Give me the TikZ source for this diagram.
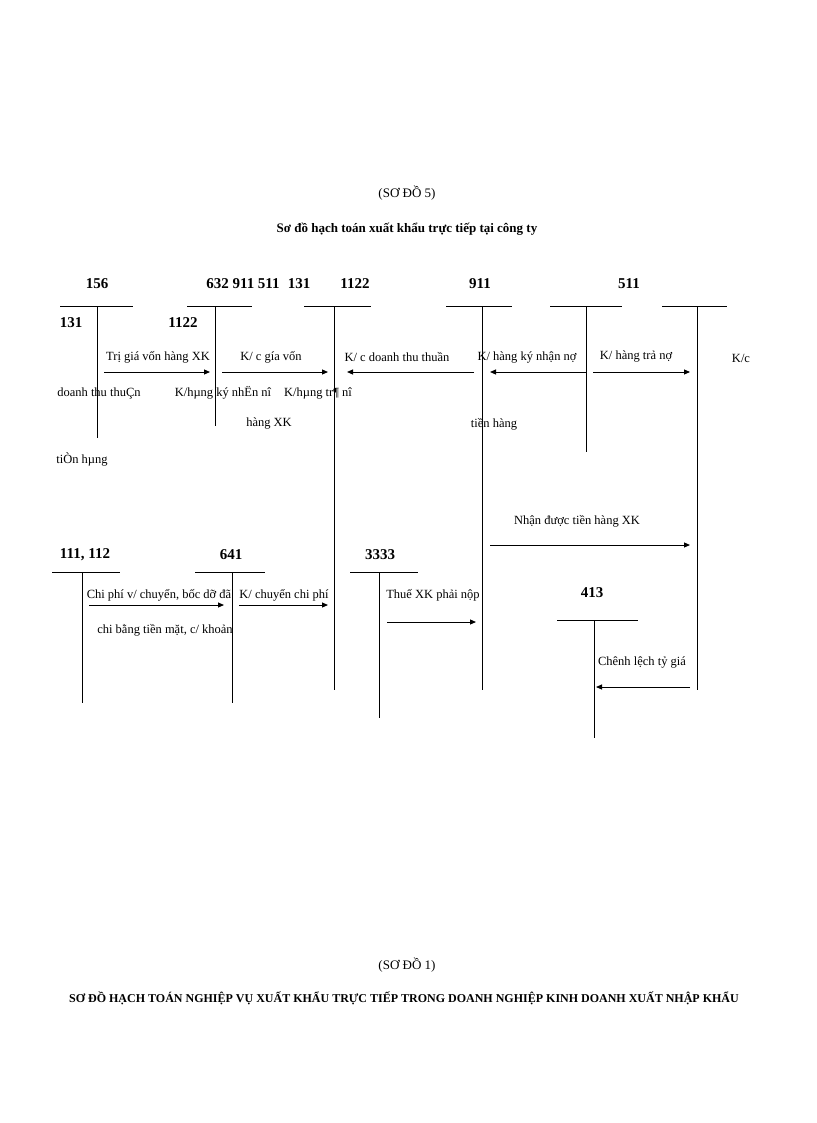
\documentclass[tikz,border=0pt]{standalone}
\usepackage{fontspec}
\setmainfont{Liberation Serif}
\usetikzlibrary{arrows.meta}
\begin{document}
\begin{tikzpicture}[x=1pt,y=-1pt,
    acct/.style={font=\bfseries\fontsize{15}{17}\selectfont},
    lbl/.style={font=\fontsize{12.5}{14}\selectfont},
    ttl/.style={font=\fontsize{13}{15}\selectfont},
    tk/.style={line width=0.7pt},
    mv/.style={line width=1pt,-{Triangle[length=6pt,width=5pt]}}]
  \useasboundingbox (0,0) rectangle (816,1123);
  % titles
  \node[ttl] (t1) at (407,193) {(SƠ ĐỒ 5)};
  \node[ttl,font=\bfseries\fontsize{13}{15}\selectfont] (t2) at (407,229) {Sơ đồ hạch toán xuất khẩu trực tiếp tại công ty};
  \node[ttl] (t3) at (407,965) {(SƠ ĐỒ 1)};
  \node[ttl,font=\bfseries\fontsize{12}{14}\selectfont] (t4) at (404,998) {SƠ ĐỒ HẠCH TOÁN NGHIỆP VỤ XUẤT KHẨU TRỰC TIẾP TRONG DOANH NGHIỆP KINH DOANH XUẤT NHẬP KHẨU};
  % account labels
  \node[acct] (a156) at (97,284) {156};
  \node[acct] (a632) at (243,284) {632 911 511};
  \node[acct] (a131) at (299,284) {131};
  \node[acct] (a1122) at (355,284) {1122};
  \node[acct] (a911) at (480,284) {911};
  \node[acct] (a511) at (629,284) {511};
  \node[acct] (b131) at (71,323) {131};
  \node[acct] (b1122) at (183,323) {1122};
  \node[acct] (a111) at (85,555) {111, 112};
  \node[acct] (a641) at (231,555) {641};
  \node[acct] (a3333) at (380,555) {3333};
  \node[acct] (a413) at (592,593) {413};
  % T accounts
  \foreach \xa/\xb/\xv/\yt/\yb in {60/133/97/306/438, 187/252/215/306/426, 304/371/334/306/690,
      446/512/482/306/690, 550/622/586/306/452, 662/727/697/306/690,
      52/120/82/572/703, 195/265/232/572/703, 350/418/379/572/718, 557/638/594/620/738}
  {
    \draw[tk] (\xa,\yt) -- (\xb,\yt);
    \draw[tk] (\xv,\yt) -- (\xv,\yb);
  }
  % arrow ends
  \coordinate (p1) at (104,372); \coordinate (q1) at (210,372);
  \coordinate (p2) at (222,372); \coordinate (q2) at (328,372);
  \coordinate (p3) at (474,372); \coordinate (q3) at (347,372);
  \coordinate (p4) at (586,372); \coordinate (q4) at (490,372);
  \coordinate (p5) at (593,372); \coordinate (q5) at (690,372);
  \coordinate (p6) at (490,545); \coordinate (q6) at (690,545);
  \coordinate (p7) at (89,605);  \coordinate (q7) at (224,605);
  \coordinate (p8) at (239,605); \coordinate (q8) at (328,605);
  \coordinate (p9) at (387,622); \coordinate (q9) at (476,622);
  \coordinate (p10) at (690,687); \coordinate (q10) at (596,687);
  \foreach \i in {1,...,10}
    \draw[mv] (p\i) -- (q\i);
  % texts
  \node[lbl] (l1) at (158,357) {Trị giá vốn hàng XK};
  \node[lbl] (l2) at (271,357) {K/ c gía vốn};
  \node[lbl] (l3) at (397,357) {K/ c doanh thu thuần};
  \node[lbl] (l4) at (527,357) {K/ hàng ký nhận nợ};
  \node[lbl] (l5) at (636,357) {K/ hàng trả nợ};
  \node[lbl] (l6) at (741,358) {K/c};
  \node[lbl] (l7) at (99,393) {doanh thu thuÇn};
  \node[lbl] (l8) at (223,393) {K/hµng ký nhËn nî};
  \node[lbl] (l9) at (318,393) {K/hµng tr¶ nî};
  \node[lbl] (l10) at (269,424) {hàng XK};
  \node[lbl] (l11) at (494,424) {tiền hàng};
  \node[lbl] (l12) at (82,459) {tiÒn hµng};
  \node[lbl] (l13) at (577,521) {Nhận được tiền hàng XK};
  \node[lbl] (l14) at (159,595) {Chi phí v/ chuyển, bốc dỡ đã};
  \node[lbl] (l15) at (165,630) {chi bằng tiền mặt, c/ khoản};
  \node[lbl] (l16) at (284,595) {K/ chuyển chi phí};
  \node[lbl] (l17) at (433,595) {Thuế XK phải nộp};
  \node[lbl] (l18) at (642,662) {Chênh lệch tỷ giá};
\end{tikzpicture}
\end{document}
